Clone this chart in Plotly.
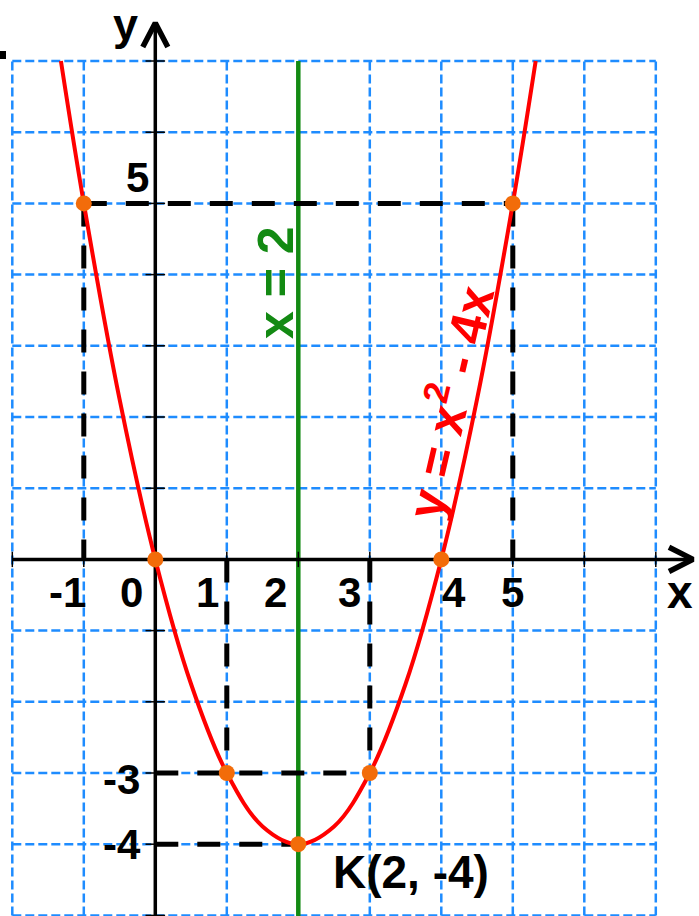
import plotly.graph_objects as go

# ---------------- data ----------------
curve_x = [-1.32, -1, -0.5, 0, 0.5, 1, 1.5, 2, 2.5, 3, 3.5, 4, 4.5, 5, 5.32]
curve_y = [7, 5, 2.25, 0, -1.75, -3, -3.75, -4, -3.75, -3, -1.75, 0, 2.25, 5, 7]

points_x = [-1, 0, 1, 2, 3, 4, 5]
points_y = [5, 0, -3, -4, -3, 0, 5]

grid_x = list(range(-2, 8))
grid_y = list(range(-5, 8))

symmetry_x = 2
x_tick_labels = ["-1", "0", "1", "2", "3", "4", "5"]
y_tick_labels = ["5", "-3", "-4"]
vertex_label = "K(2, -4)"
curve_label = "y = x<sup>2</sup> - 4x"
axis_label = "x = 2"

# ---------------- geometry ----------------
W, H = 699, 916
X0PX, SX = 155.3, 71.5
Y0PX, SY = 559.4, 71.2
xr = [(0 - X0PX) / SX, (W - X0PX) / SX]
yr = [(Y0PX - H) / SY, Y0PX / SY]


def px(xp, yp):
    return ((xp - X0PX) / SX, (Y0PX - yp) / SY)


FONT = "Liberation Sans, Arial, sans-serif"
BLUE = "#1E8CFF"
ORANGE = "#F26C0A"
GREEN = "#138A13"

fig = go.Figure()

# grid (dashed blue)
gx, gy = [], []
for v in grid_x:
    gx += [v, v, None]
    gy += [grid_y[0], grid_y[-1], None]
for v in grid_y:
    gx += [grid_x[0], grid_x[-1], None]
    gy += [v, v, None]
fig.add_trace(go.Scatter(x=gx, y=gy, mode="lines", hoverinfo="skip",
                         line=dict(color=BLUE, width=2.5, dash="9px,4px")))

# symmetry line x = 2
fig.add_trace(go.Scatter(x=[symmetry_x, symmetry_x], y=[yr[0] - 0.2, grid_y[-1]],
                         mode="lines", line=dict(color=GREEN, width=4.5)))

# black dashed guides built from the marked points
P = list(zip(points_x, points_y))
guides = [
    (P[0], P[6]),                 # y = 5 from x=-1 to 5
    (P[0], (P[0][0], 0)),         # x = -1 down to axis
    (P[6], (P[6][0], 0)),         # x = 5 down to axis
    ((0, P[2][1]), P[4]),         # y = -3 from axis to x=3
    ((P[2][0], 0), P[2]),         # x = 1
    ((P[4][0], 0), P[4]),         # x = 3
    ((0, P[3][1]), P[3]),         # y = -4 from axis to vertex
]
bx, by = [], []
for a, b in guides:
    bx += [a[0], b[0], None]
    by += [a[1], b[1], None]
fig.add_trace(go.Scatter(x=bx, y=by, mode="lines", hoverinfo="skip",
                         line=dict(color="black", width=5, dash="23px,19px")))

# axes
x_tip = (693 - X0PX) / SX
y_tip = (Y0PX - 23) / SY
fig.add_trace(go.Scatter(x=[grid_x[0], x_tip - 0.03], y=[0, 0], mode="lines",
                         line=dict(color="black", width=3.5)))
fig.add_trace(go.Scatter(x=[0, 0], y=[yr[0] - 0.2, y_tip - 0.03], mode="lines",
                         line=dict(color="black", width=3.5)))
# arrowheads
ax_back = (669 - X0PX) / SX
ay_back = (Y0PX - 47) / SY
fig.add_trace(go.Scatter(x=[ax_back, x_tip, ax_back], y=[0.17, 0, -0.17], mode="lines",
                         line=dict(color="black", width=5.5)))
fig.add_trace(go.Scatter(x=[-0.175, 0, 0.175], y=[ay_back, y_tip, ay_back], mode="lines",
                         line=dict(color="black", width=5.5)))
# tick marks
fig.add_trace(go.Scatter(x=grid_x, y=[0] * len(grid_x), mode="markers",
                         marker=dict(symbol="line-ns", size=11, line=dict(color="black", width=1.5))))
fig.add_trace(go.Scatter(x=[0] * len(grid_y), y=grid_y, mode="markers",
                         marker=dict(symbol="line-ew", size=14, line=dict(color="black", width=1.5))))

# parabola
fig.add_trace(go.Scatter(x=curve_x, y=curve_y, mode="lines",
                         line=dict(color="#FF0000", width=4, shape="spline", smoothing=1.0)))

# points
fig.add_trace(go.Scatter(x=points_x, y=points_y, mode="markers",
                         marker=dict(color=ORANGE, size=16, line=dict(width=0))))

# small mark at top-left edge
m0 = px(0, 51)
m1 = px(6, 59)
fig.add_shape(type="rect", x0=m0[0], x1=m1[0], y0=m1[1], y1=m0[1],
              fillcolor="black", line=dict(width=0))

# ---------------- text ----------------
def label(text, xp, yp, size, color="black", angle=0):
    x, y = px(xp, yp)
    fig.add_annotation(x=x, y=y, text="<b>" + text + "</b>", showarrow=False,
                       xanchor="center", yanchor="middle", textangle=angle,
                       font=dict(family=FONT, size=size, color=color))


x_label_px = [67, 131, 207, 275, 349, 454, 512]
for t, xp in zip(x_tick_labels, x_label_px):
    label(t, xp, 592, 42)
y_label_px = [(137, 177), (121, 779), (122, 844)]
for t, (xp, yp) in zip(y_tick_labels, y_label_px):
    label(t, xp, yp, 42)

label("x", 680, 592, 46)
label("y", 125, 24, 45)
label(vertex_label, 411, 872, 46)
label(axis_label, 276, 283, 50, GREEN, -90)
label(curve_label, 447, 402, 51, "#FF0000", -77)

fig.update_layout(
    width=W, height=H, margin=dict(l=0, r=0, t=0, b=0),
    paper_bgcolor="white", plot_bgcolor="white", showlegend=False,
    xaxis=dict(range=xr, visible=False, fixedrange=True),
    yaxis=dict(range=yr, visible=False, fixedrange=True),
)

fig.write_html("out.html", config={"displayModeBar": False},
               post_script="document.body.style.margin='0px';document.body.style.overflow='hidden';")
